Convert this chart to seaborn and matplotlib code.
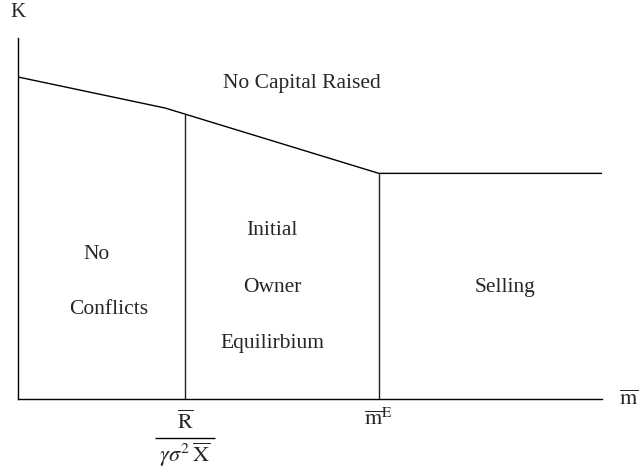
import matplotlib
matplotlib.use("Agg")
import matplotlib.pyplot as plt
import seaborn as sns
import pandas as pd

# boundary of the "No Capital Raised" region (K as a function of m-bar)
boundary_x = [0.0, 2.52, 6.18, 10.0]
boundary_k = [8.92, 8.06, 6.25, 6.25]

# regime dividers
divider_x = [2.86, 6.18]
divider_top = [7.89, 6.25]

# region labels
region_text = ["No Capital Raised", "No", "Conflicts", "Initial", "Owner",
               "Equilirbium", "Selling"]
region_x = [4.86, 1.35, 1.56, 4.35, 4.35, 4.35, 8.34]
region_y = [8.75, 3.99, 2.47, 4.67, 3.10, 1.55, 3.10]

sns.set_style("white")
plt.rcParams["font.family"] = ["Liberation Serif", "DejaVu Serif"]
plt.rcParams["mathtext.fontset"] = "stix"

fig = plt.figure(figsize=(6.39, 4.72), dpi=100)
ax = fig.add_axes([18 / 639, 73 / 472, 584 / 639, 361 / 472])

df = pd.DataFrame({"m": boundary_x, "K": boundary_k})
sns.lineplot(data=df, x="m", y="K", color="black", lw=1.0, ax=ax,
             estimator=None, sort=False)
ax.vlines(divider_x, 0, divider_top, color="#222222", lw=1.0)

for t, x, y in zip(region_text, region_x, region_y):
    ax.text(x, y, t, ha="center", va="center", fontsize=15.5)

ax.set_xlim(0, 10)
ax.set_ylim(0, 10)
ax.set_xticks([])
ax.set_yticks([])
ax.set_xlabel("")
ax.set_ylabel("")
for s in ["top", "right"]:
    ax.spines[s].set_visible(False)
for s in ["left", "bottom"]:
    ax.spines[s].set_color("black")
    ax.spines[s].set_linewidth(1.0)

# axis names
ax.text(0.0, 10.7, "K", ha="center", va="center", fontsize=15, clip_on=False)
ax.text(10.45, -0.05, r"$\overline{\mathrm{m}}$", ha="center", va="center",
        fontsize=16, clip_on=False)

# threshold labels under the dividers
ax.text(divider_x[0], -0.65, r"$\overline{\mathrm{R}}$", ha="center",
        va="center", fontsize=16, clip_on=False)
ax.hlines(-1.08, divider_x[0] - 0.51, divider_x[0] + 0.51, color="black",
          lw=1.0, clip_on=False)
ax.text(divider_x[1], -0.25, r"$\overline{\mathrm{m}}^{\mathrm{E}}$",
        ha="center", va="top", fontsize=16, clip_on=False)
ax.text(divider_x[0], -1.55, r"$\gamma\sigma^2\,\overline{\mathrm{X}}$",
        ha="center", va="center", fontsize=16, clip_on=False)

fig.savefig("out.png", dpi=100)
